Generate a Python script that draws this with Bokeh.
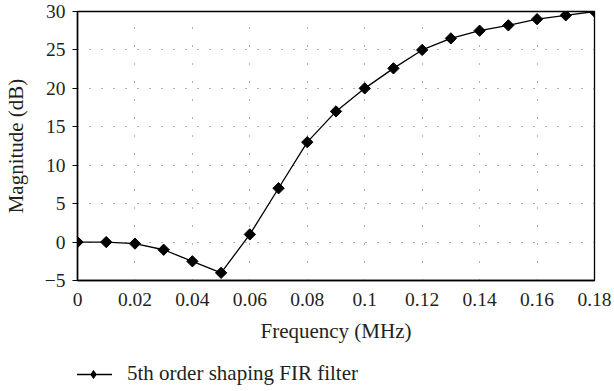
import math
from bokeh.plotting import figure
from bokeh.layouts import column
from bokeh.models import Legend, LegendItem, FixedTicker, Range1d
from bokeh.embed import file_html
from bokeh.resources import INLINE

freq = [0.00, 0.01, 0.02, 0.03, 0.04, 0.05, 0.06, 0.07, 0.08, 0.09,
        0.10, 0.11, 0.12, 0.13, 0.14, 0.15, 0.16, 0.17, 0.18]
magnitude = [0.0, 0.0, -0.2, -1.0, -2.5, -4.0, 1.0, 7.0, 13.0, 17.0,
             20.0, 22.6, 25.0, 26.5, 27.5, 28.2, 29.0, 29.5, 30.0]

x_ticks = [0, 0.02, 0.04, 0.06, 0.08, 0.1, 0.12, 0.14, 0.16, 0.18]
x_tick_labels = ["0", "0.02", "0.04", "0.06", "0.08", "0.1", "0.12", "0.14", "0.16", "0.18"]
y_ticks = [-5, 0, 5, 10, 15, 20, 25, 30]
y_tick_labels = ["\u22125", "0", "5", "10", "15", "20", "25", "30"]

series_label = "5th order shaping FIR filter"
x_label = "Frequency (MHz)"
y_label = "Magnitude (dB)"

FONT = "Liberation Serif"
TXT = "#231f20"

LINE_STYLE = dict(line_color="black", line_width=1.3)
MARK_STYLE = dict(marker="square", size=8, angle=math.pi / 4,
                  fill_color="black", line_color="black")

p = figure(width=614, height=350, output_backend="svg", toolbar_location=None,
           x_range=Range1d(0, 0.18), y_range=Range1d(-5, 30),
           min_border_left=75, min_border_right=20, min_border_top=11, min_border_bottom=70)

p.background_fill_color = "white"
p.border_fill_color = "white"
p.outline_line_color = "black"
p.outline_line_width = 1.3

p.line(freq, magnitude, **LINE_STYLE)
p.scatter(freq, magnitude, **MARK_STYLE)

p.xaxis.ticker = FixedTicker(ticks=x_ticks)
p.yaxis.ticker = FixedTicker(ticks=y_ticks)
p.xaxis.major_label_overrides = {t: l for t, l in zip(x_ticks, x_tick_labels)}
p.yaxis.major_label_overrides = {t: l for t, l in zip(y_ticks, y_tick_labels)}

for ax in (p.xaxis, p.yaxis):
    ax.axis_line_color = "black"
    ax.axis_line_width = 1.5
    ax.minor_tick_line_color = None
    ax.major_label_text_font = FONT
    ax.major_label_text_font_size = "19.5px"
    ax.major_label_text_color = TXT
    ax.axis_label_text_font = FONT
    ax.axis_label_text_font_size = "21px"
    ax.axis_label_text_font_style = "normal"
    ax.axis_label_text_color = TXT

p.xaxis.major_tick_in = 0
p.xaxis.major_tick_out = 0
p.xaxis.major_label_standoff = 12
p.xaxis.axis_label = x_label
p.xaxis.axis_label_standoff = 10

p.yaxis.major_tick_in = 0
p.yaxis.major_tick_out = 5
p.yaxis.major_tick_line_color = "black"
p.yaxis.major_tick_line_width = 1.2
p.yaxis.major_label_standoff = 7
p.yaxis.axis_label = y_label
p.yaxis.axis_label_standoff = 14

p.xgrid.grid_line_color = "#666666"
p.xgrid.grid_line_width = 1
p.xgrid.grid_line_dash = "1 17"
p.ygrid.grid_line_color = "#666666"
p.ygrid.grid_line_width = 1
p.ygrid.grid_line_dash = "1 11"

# legend strip below the chart (its series copy lies outside its own view)
lg = figure(width=614, height=41, output_backend="svg", toolbar_location=None,
            x_range=Range1d(10, 11), y_range=Range1d(100, 101),
            x_axis_location=None, y_axis_location=None,
            min_border_left=0, min_border_right=0, min_border_top=0, min_border_bottom=0)
lg.grid.visible = False
lg.outline_line_color = None
lg.background_fill_color = "white"
lg.border_fill_color = "white"
lr = lg.line(freq, magnitude, **LINE_STYLE)
sr = lg.scatter(freq, magnitude, marker="diamond", size=12, fill_color="black", line_color="black")
legend = Legend(items=[LegendItem(label=series_label, renderers=[lr, sr])],
                location=(-3, 5), orientation="horizontal",
                border_line_color=None, background_fill_alpha=0,
                label_text_font=FONT, label_text_font_size="21px", label_text_color=TXT,
                glyph_width=38, glyph_height=20, label_standoff=15,
                padding=0, margin=0, spacing=0)
lg.add_layout(legend, "center")

layout = column(p, lg, spacing=0)
open("out.html", "w").write(file_html(layout, INLINE))
